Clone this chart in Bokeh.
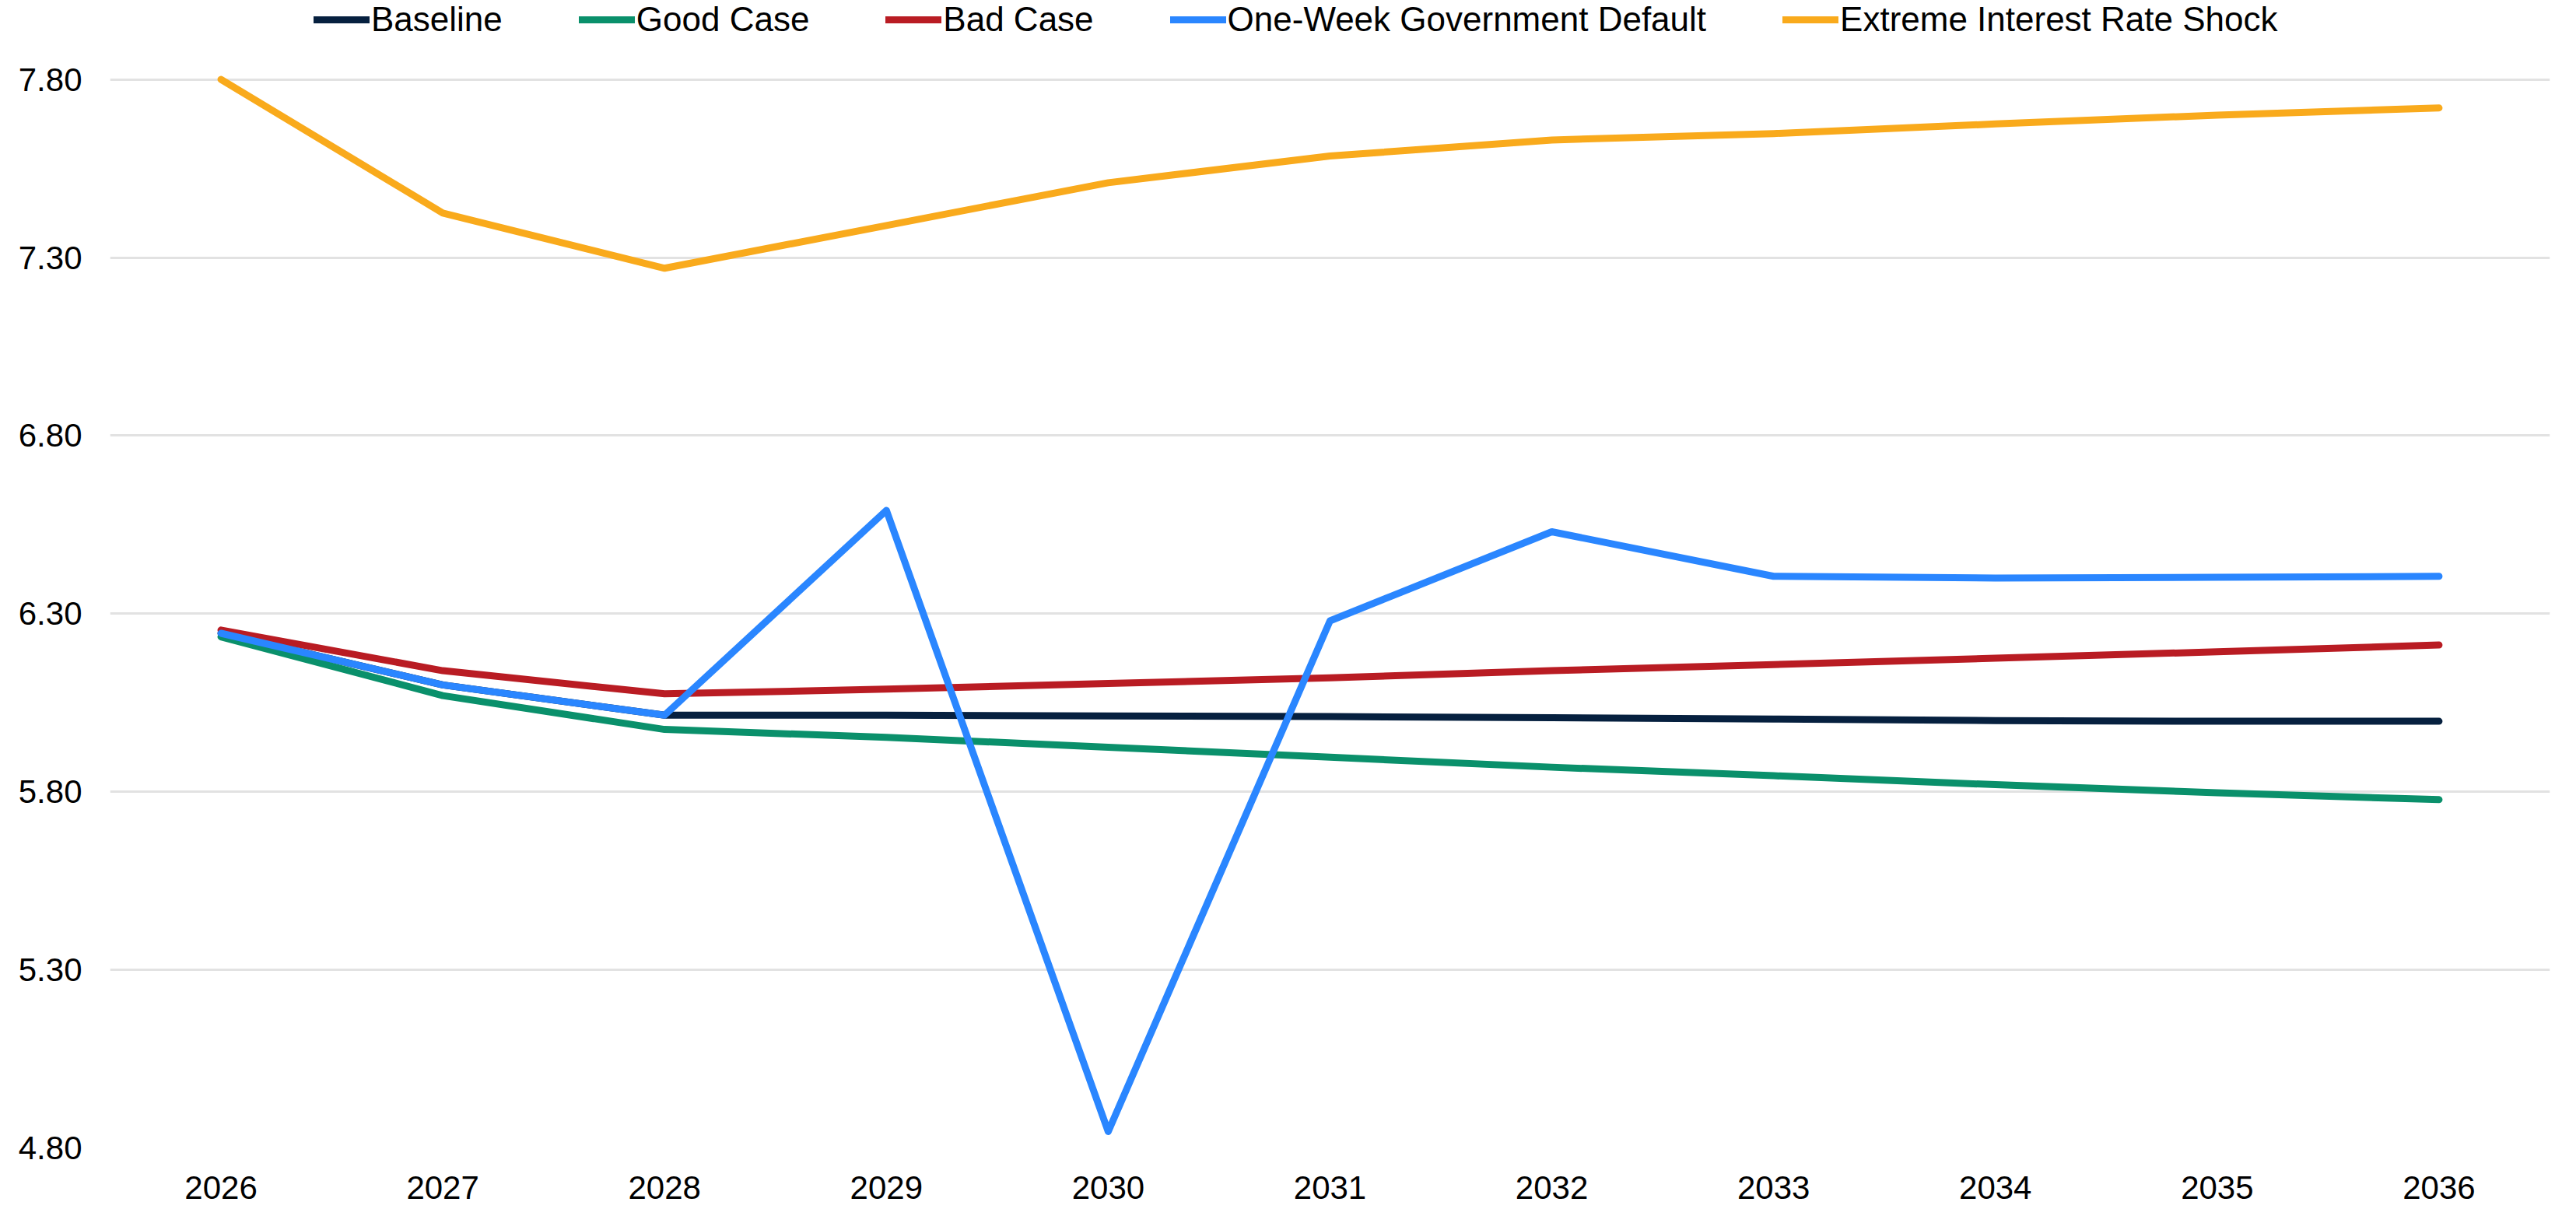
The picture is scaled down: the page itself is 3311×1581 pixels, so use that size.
from bokeh.plotting import figure
from bokeh.models import Range1d, FixedTicker, NumeralTickFormatter, Legend, LegendItem
from bokeh.embed import file_html
from bokeh.resources import INLINE

years = ["2026", "2027", "2028", "2029", "2030", "2031", "2032", "2033", "2034", "2035", "2036"]
baseline = [6.245, 6.100, 6.015, 6.015, 6.013, 6.011, 6.008, 6.004, 6.000, 5.998, 5.998]
good_case = [6.235, 6.070, 5.975, 5.953, 5.925, 5.897, 5.869, 5.845, 5.820, 5.797, 5.778]
bad_case = [6.254, 6.140, 6.075, 6.088, 6.104, 6.120, 6.140, 6.157, 6.175, 6.193, 6.212]
gov_default = [6.245, 6.100, 6.015, 6.590, 4.846, 6.280, 6.530, 6.405, 6.400, 6.402, 6.405]
rate_shock = [7.800, 7.425, 7.270, 7.390, 7.510, 7.585, 7.630, 7.648, 7.675, 7.700, 7.720]
y_ticks = [4.8, 5.3, 5.8, 6.3, 6.8, 7.3, 7.8]

series = [
    ("Baseline", baseline, "#06203f"),
    ("Good Case", good_case, "#0a906b"),
    ("Bad Case", bad_case, "#b91c23"),
    ("One-Week Government Default", gov_default, "#2a86ff"),
    ("Extreme Interest Rate Shock", rate_shock, "#f9aa1c"),
]

FONT = "Liberation Sans"
W, H = 3295, 1565
BL, BR, BT, BB = 141, 18, 0, 90

p = figure(width=W, height=H, x_range=years, y_range=Range1d(4.8, 8.022),
           output_backend="svg", toolbar_location=None,
           min_border_left=BL, min_border_right=BR, min_border_top=BT, min_border_bottom=BB)
p.outline_line_color = None
p.background_fill_color = "white"
p.border_fill_color = "white"

items = []
for name, vals, col in series:
    r = p.line(years, vals, line_color=col, line_width=9, line_cap="round", line_join="round")
    items.append(LegendItem(label=name, renderers=[r]))

p.xgrid.grid_line_color = None
p.ygrid.grid_line_color = "#e2e2e2"
p.ygrid.grid_line_width = 3
p.yaxis.ticker = FixedTicker(ticks=y_ticks)
p.yaxis.formatter = NumeralTickFormatter(format="0.00")
for ax in (p.xaxis[0], p.yaxis[0]):
    ax.axis_line_color = None
    ax.major_tick_line_color = None
    ax.minor_tick_line_color = None
    ax.major_label_text_font = FONT
    ax.major_label_text_font_size = "42px"
    ax.major_label_text_color = "#000000"
p.xaxis.major_label_standoff = 30
p.yaxis.major_label_standoff = 30

frame_h = H - BT - BB
legend = Legend(items=items, orientation="horizontal", location=(262, frame_h - 50),
                label_text_font=FONT, label_text_font_size="44px", label_text_color="#000000",
                glyph_width=72, glyph_height=40, label_standoff=2, spacing=98,
                padding=0, margin=0, border_line_color=None, background_fill_alpha=0)
p.add_layout(legend, "center")

open("out.html", "w").write(file_html(p, INLINE))
